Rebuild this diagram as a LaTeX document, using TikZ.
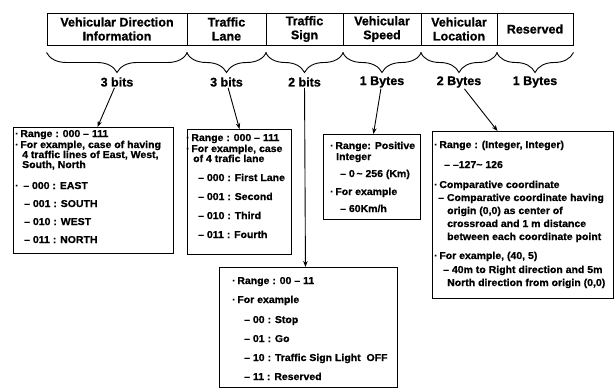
\documentclass[tikz,border=0pt]{standalone}
\usepackage{fontspec}
\setmainfont{Liberation Sans}
\newfontfamily\hfont[FakeBold=0.8]{Liberation Sans}
\newfontfamily\bfont[FakeStretch=1.05,FakeBold=0.8]{Liberation Sans}
\usetikzlibrary{decorations.pathreplacing,arrows.meta,calc}
\begin{document}
\begin{tikzpicture}[x=1pt,y=-1pt,
 cell/.style={draw, line width=1pt, minimum height=32, inner sep=0, align=center, font=\hfont\bfseries\fontsize{12.5}{14}\selectfont},
 lbl/.style={font=\hfont\bfseries\fontsize{12.5}{14}\selectfont, inner sep=1pt},
 brc/.style={draw, line width=0.9pt, decorate, decoration={brace, mirror, amplitude=20pt}},
 infobox/.style={draw, line width=1pt, anchor=north west, inner sep=0},
 txt/.style={anchor=base west, inner sep=0, font=\bfont\bfseries\fontsize{10}{11}\selectfont},
 arr/.style={-{Stealth[length=6pt,width=4.5pt]}, line width=0.9pt}]
\useasboundingbox (0,0) rectangle (616,388);

% header cells
\node[cell, minimum width=140] (c1) at (117,29) {Vehicular Direction\\Information};
\node[cell, minimum width=79] (c2) at (226.5,29) {Traffic\\Lane};
\node[cell, minimum width=77] (c3) at (304.5,29) {Traffic\\Sign};
\node[cell, minimum width=78] (c4) at (382,29) {Vehicular\\Speed};
\node[cell, minimum width=76] (c5) at (459,29) {Vehicular\\Location};
\node[cell, minimum width=76] (c6) at (535,29) {Reserved};

% braces
\foreach \c in {c1,c2,c3,c4,c5,c6}
  \draw[brc] ([yshift=-7pt]\c.south west) -- ([yshift=-7pt]\c.south east);

% labels
\node[lbl] (l1) at (117,82) {3 bits};
\node[lbl] (l2) at (226.5,82) {3 bits};
\node[lbl] (l3) at (304.5,82) {2 bits};
\node[lbl] (l4) at (382,82) {1 Bytes};
\node[lbl] (l5) at (459,82) {2 Bytes};
\node[lbl] (l6) at (535,82) {1 Bytes};

% boxes
\node[infobox, minimum width=160, minimum height=126] (b1) at (13,127) {};
\node[infobox, minimum width=104, minimum height=125] (b2) at (187,129) {};
\node[infobox, minimum width=178, minimum height=120] (b3) at (219,267) {};
\node[infobox, minimum width=97, minimum height=85] (b4) at (323,134) {};
\node[infobox, minimum width=181, minimum height=167] (b5) at (432,131) {};

% arrows
\draw[arr] (l1) -- ($(b1.north west)!0.525!(b1.north east)$);
\draw[arr] (l2) -- ($(b2.north west)!0.5!(b2.north east)$);
\draw[arr] (l3) -- ($(b3.north west)!0.483!(b3.north east)$);
\draw[arr] (l4) -- ($(b4.north west)!0.515!(b4.north east)$);
\draw[arr] (l5) -- ($(b5.north west)!0.36!(b5.north east)$);

% box 1 text
\node[txt] (t11) at (15,137) {·\,Range : 000 – 111};
\node[txt] (t12) at (15,148) {·\,For example, case of having};
\node[txt] (t13) at (22,158) {4 traffic lines of East, West,};
\node[txt] (t14) at (22,168) {South, North};
\node[txt] (t15) at (15,189) {·\, – 000 : EAST};
\node[txt] (t16) at (24,207) {– 001 : SOUTH};
\node[txt] (t17) at (24,225) {– 010 : WEST};
\node[txt] (t18) at (24,243) {– 011 : NORTH};

% box 2 text
\node[txt] (t21) at (186,141) {·\,Range : 000 – 111};
\node[txt] (t22) at (186,152) {·\,For example, case};
\node[txt] (t23) at (193,162) {of 4 trafic lane};
\node[txt] (t24) at (198,181) {– 000 : First Lane};
\node[txt] (t25) at (198,200) {– 001 : Second};
\node[txt] (t26) at (198,219) {– 010 : Third};
\node[txt] (t27) at (198,238) {– 011 : Fourth};

% box 3 text
\node[txt] (t31) at (232,284) {·\,Range : 00 – 11};
\node[txt] (t32) at (232,303) {·\,For example};
\node[txt] (t33) at (244,323) {– 00 : Stop};
\node[txt] (t34) at (244,342) {– 01 : Go};
\node[txt] (t35) at (244,361) {– 10 : Traffic Sign Light~~OFF};
\node[txt] (t36) at (244,380) {– 11 : Reserved};

% box 4 text
\node[txt] (t41) at (330,149) {·\,Range: Positive};
\node[txt] (t42) at (336,160) {Integer};
\node[txt] (t43) at (340,177) {– 0\,\textasciitilde\ 256 (Km)};
\node[txt] (t44) at (330,195) {·\,For example};
\node[txt] (t45) at (340,212) {– 60Km/h};

% box 5 text
\node[txt] (t51) at (434,148) {·\,Range : (Integer, Integer)};
\node[txt] (t52) at (444,168) {– –127\textasciitilde\ 126};
\node[txt] (t53) at (434,188) {·\,Comparative coordinate};
\node[txt] (t54) at (438,201) {– Comparative coordinate having};
\node[txt] (t55) at (447,214) {origin (0,0) as center of};
\node[txt] (t56) at (447,227) {crossroad and 1 m distance};
\node[txt] (t57) at (447,240) {between each coordinate point};
\node[txt] (t58) at (434,259) {·\,For example, (40, 5)};
\node[txt] (t59) at (443,273) {– 40m to Right direction and 5m};
\node[txt] (t510) at (447,286) {North direction from origin (0,0)};
\end{tikzpicture}
\end{document}
